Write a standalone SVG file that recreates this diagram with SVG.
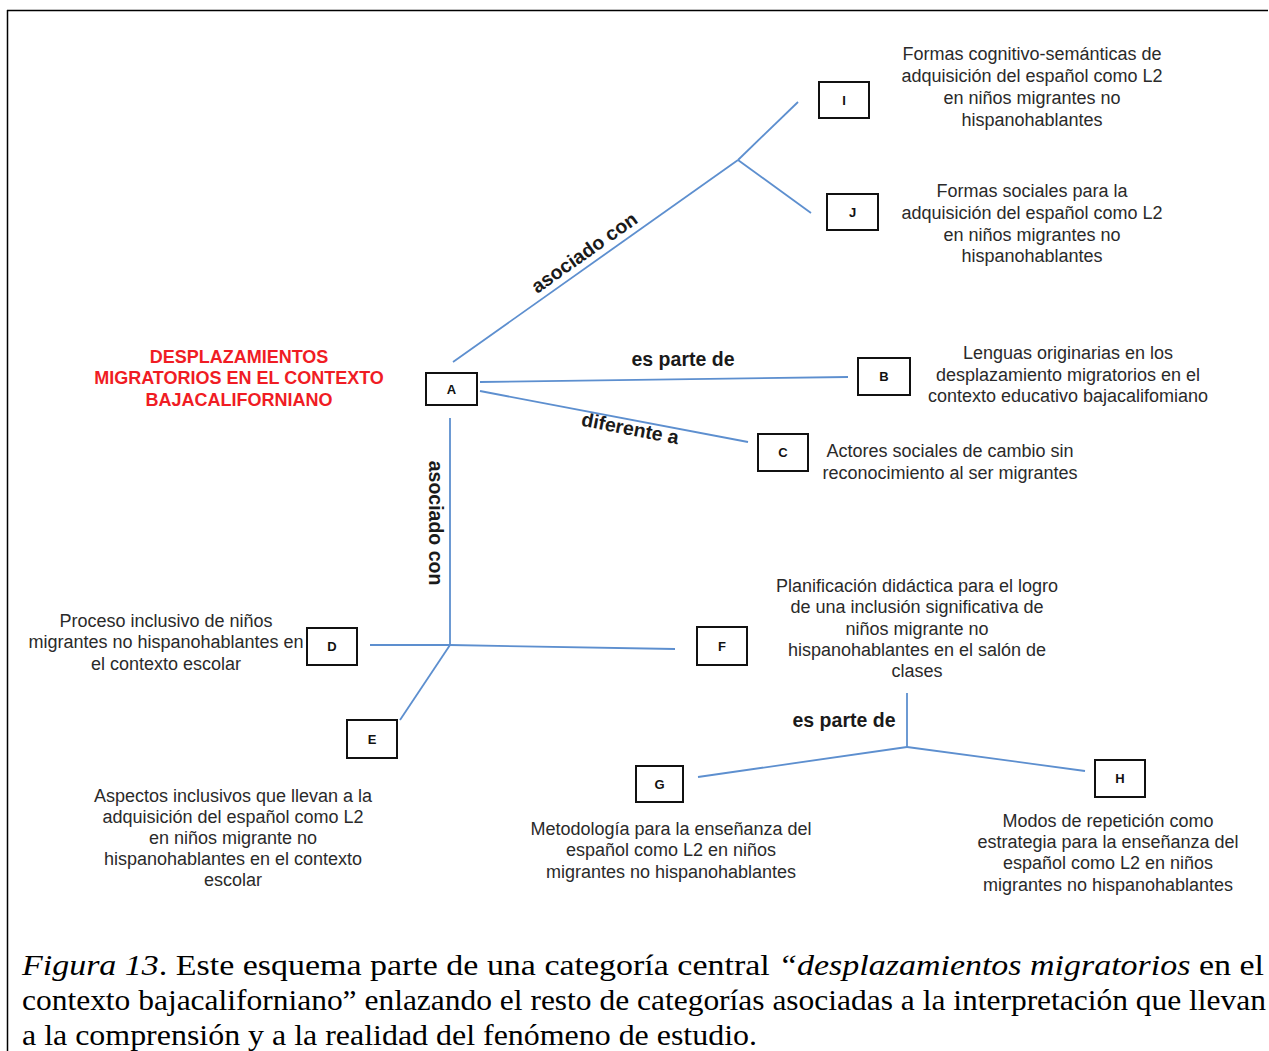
<svg xmlns="http://www.w3.org/2000/svg" width="1269" height="1051" viewBox="0 0 1269 1051">
<style>
.box{fill:#fff;stroke:#111;stroke-width:2}
.lbl{font-family:"Liberation Sans",Arial,sans-serif;font-weight:bold;font-size:13px;fill:#111;text-anchor:middle}
.t{font-family:"Liberation Sans",Arial,sans-serif;font-size:18px;fill:#2a2a2a;text-anchor:middle}
.rel{font-family:"Liberation Sans",Arial,sans-serif;font-size:19.5px;font-weight:bold;fill:#1a1a1a;text-anchor:middle}
.red{font-family:"Liberation Sans",Arial,sans-serif;font-size:18px;font-weight:bold;fill:#f01c24;text-anchor:middle}
.conn line{stroke:#5d8fcf;stroke-width:1.8}
.cap{font-family:"Liberation Serif","Times New Roman",serif;font-size:30px;fill:#000}
</style>
<rect width="1269" height="1051" fill="#fff"/>
<line x1="7" y1="10.5" x2="1268" y2="10.5" stroke="#000" stroke-width="1.5"/>
<line x1="7.5" y1="10" x2="7.5" y2="1051" stroke="#000" stroke-width="1.5"/>

<g id="connectors" class="conn">
<line x1="453" y1="362" x2="738" y2="160"/>
<line x1="738" y1="160" x2="798" y2="102"/>
<line x1="738" y1="160" x2="811" y2="213"/>
<line x1="480" y1="382" x2="848" y2="377"/>
<line x1="480" y1="391" x2="748" y2="442"/>
<line x1="450" y1="418" x2="450" y2="645"/>
<line x1="370" y1="645" x2="450" y2="645"/>
<line x1="450" y1="645" x2="675" y2="649"/>
<line x1="450" y1="645" x2="400" y2="720"/>
<line x1="907" y1="693" x2="907" y2="747"/>
<line x1="907" y1="747" x2="698" y2="777"/>
<line x1="907" y1="747" x2="1085" y2="771"/>
</g>

<g id="rel-labels">
<text class="rel" transform="translate(588,258) rotate(-35.3)">asociado con</text>
<text class="rel" x="683" y="366">es parte de</text>
<text class="rel" transform="translate(629,435) rotate(11)">diferente a</text>
<text class="rel" transform="translate(429,523) rotate(90)">asociado con</text>
<text class="rel" x="844" y="727">es parte de</text>
</g>

<g id="title">
<text class="red" x="239" y="363">DESPLAZAMIENTOS</text>
<text class="red" x="239" y="384">MIGRATORIOS EN EL CONTEXTO</text>
<text class="red" x="239" y="406">BAJACALIFORNIANO</text>
</g>

<g id="node-A"><rect class="box" x="426" y="373" width="51" height="32"/><text class="lbl" x="451.5" y="394">A</text></g>

<g id="node-I"><rect class="box" x="819" y="82" width="50" height="36"/><text class="lbl" x="844" y="105">I</text>
<text class="t" x="1032" y="60">Formas cognitivo-semánticas de</text>
<text class="t" x="1032" y="82">adquisición del español como L2</text>
<text class="t" x="1032" y="104">en niños migrantes no</text>
<text class="t" x="1032" y="126">hispanohablantes</text></g>

<g id="node-J"><rect class="box" x="827" y="194" width="51" height="36"/><text class="lbl" x="852.5" y="217">J</text>
<text class="t" x="1032" y="197">Formas sociales para la</text>
<text class="t" x="1032" y="219">adquisición del español como L2</text>
<text class="t" x="1032" y="241">en niños migrantes no</text>
<text class="t" x="1032" y="262">hispanohablantes</text></g>

<g id="node-B"><rect class="box" x="858" y="358" width="52" height="37"/><text class="lbl" x="884" y="381">B</text>
<text class="t" x="1068" y="359">Lenguas originarias en los</text>
<text class="t" x="1068" y="381">desplazamiento migratorios en el</text>
<text class="t" x="1068" y="402">contexto educativo bajacalifomiano</text></g>

<g id="node-C"><rect class="box" x="758" y="434" width="50" height="37"/><text class="lbl" x="783" y="457">C</text>
<text class="t" x="950" y="457">Actores sociales de cambio sin</text>
<text class="t" x="950" y="479">reconocimiento al ser migrantes</text></g>

<g id="node-D"><rect class="box" x="307" y="628" width="50" height="37"/><text class="lbl" x="332" y="651">D</text>
<text class="t" x="166" y="627">Proceso inclusivo de niños</text>
<text class="t" x="166" y="648">migrantes no hispanohablantes en</text>
<text class="t" x="166" y="670">el contexto escolar</text></g>

<g id="node-E"><rect class="box" x="347" y="720" width="50" height="38"/><text class="lbl" x="372" y="744">E</text>
<text class="t" x="233" y="802">Aspectos inclusivos que llevan a la</text>
<text class="t" x="233" y="823">adquisición del español como L2</text>
<text class="t" x="233" y="844">en niños migrante no</text>
<text class="t" x="233" y="865">hispanohablantes en el contexto</text>
<text class="t" x="233" y="886">escolar</text></g>

<g id="node-F"><rect class="box" x="697" y="627" width="50" height="38"/><text class="lbl" x="722" y="651">F</text>
<text class="t" x="917" y="592">Planificación didáctica para el logro</text>
<text class="t" x="917" y="613">de una inclusión significativa de</text>
<text class="t" x="917" y="635">niños migrante no</text>
<text class="t" x="917" y="656">hispanohablantes en el salón de</text>
<text class="t" x="917" y="677">clases</text></g>

<g id="node-G"><rect class="box" x="636" y="766" width="47" height="36"/><text class="lbl" x="659.5" y="789">G</text>
<text class="t" x="671" y="835">Metodología para la enseñanza del</text>
<text class="t" x="671" y="856">español como L2 en niños</text>
<text class="t" x="671" y="878">migrantes no hispanohablantes</text></g>

<g id="node-H"><rect class="box" x="1095" y="760" width="50" height="37"/><text class="lbl" x="1120" y="783">H</text>
<text class="t" x="1108" y="827">Modos de repetición como</text>
<text class="t" x="1108" y="848">estrategia para la enseñanza del</text>
<text class="t" x="1108" y="869">español como L2 en niños</text>
<text class="t" x="1108" y="891">migrantes no hispanohablantes</text></g>

<g id="caption">
<text class="cap" x="22" y="975" textLength="1242" lengthAdjust="spacingAndGlyphs"><tspan font-style="italic">Figura 13</tspan>. Este esquema parte de una categoría central  <tspan font-style="italic">“desplazamientos migratorios</tspan> en el</text>
<text class="cap" x="22" y="1010" textLength="1244" lengthAdjust="spacingAndGlyphs">contexto bajacaliforniano” enlazando el resto de categorías asociadas a la interpretación que llevan</text>
<text class="cap" x="22" y="1045" textLength="735" lengthAdjust="spacingAndGlyphs">a la comprensión y a la realidad del fenómeno de estudio.</text>
</g>
</svg>
